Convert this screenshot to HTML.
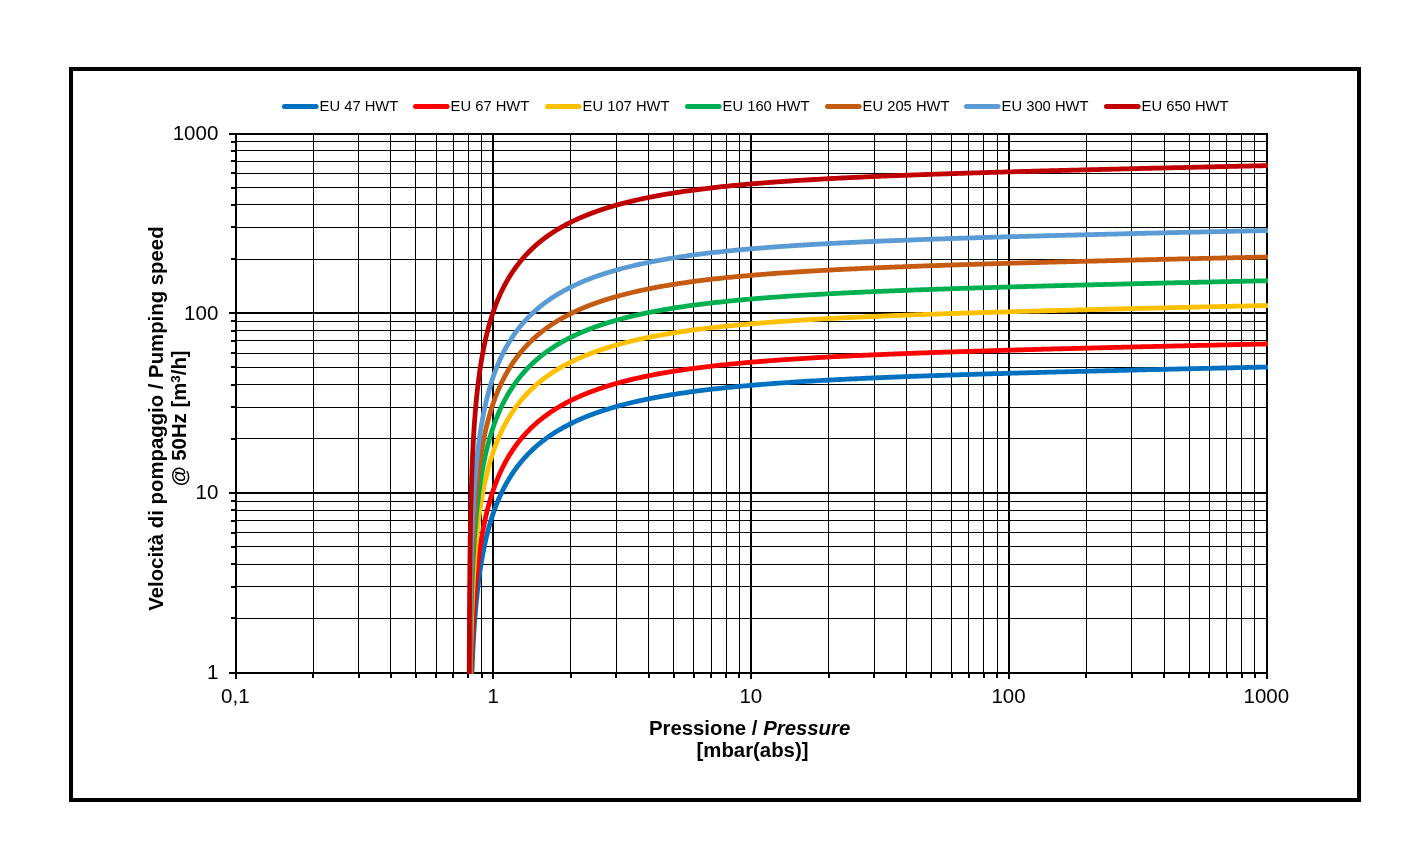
<!DOCTYPE html>
<html lang="en"><head><meta charset="utf-8"><title>Pumping speed</title>
<style>
html,body{margin:0;padding:0;background:#fff;}
body{width:1428px;height:861px;overflow:hidden;}
svg{display:block;will-change:transform;}
text{font-family:"Liberation Sans",sans-serif;fill:#000;}
.tk{font-size:20.5px;}
.tt{font-size:20.35px;font-weight:bold;}
.lg{font-size:14.75px;}
</style></head><body>
<svg width="1428" height="861" viewBox="0 0 1428 861">
<rect x="0" y="0" width="1428" height="861" fill="#fff"/>
<rect x="71" y="69" width="1288" height="731" fill="none" stroke="#000" stroke-width="4" shape-rendering="crispEdges"/>
<g shape-rendering="crispEdges" fill="#000">
<rect x="313" y="133" width="1" height="541"/>
<rect x="312" y="672" width="2" height="6"/>
<rect x="358" y="133" width="1" height="541"/>
<rect x="358" y="672" width="2" height="6"/>
<rect x="390" y="133" width="1" height="541"/>
<rect x="390" y="672" width="2" height="6"/>
<rect x="415" y="133" width="1" height="541"/>
<rect x="415" y="672" width="2" height="6"/>
<rect x="436" y="133" width="1" height="541"/>
<rect x="435" y="672" width="2" height="6"/>
<rect x="453" y="133" width="1" height="541"/>
<rect x="452" y="672" width="2" height="6"/>
<rect x="468" y="133" width="1" height="541"/>
<rect x="467" y="672" width="2" height="6"/>
<rect x="481" y="133" width="1" height="541"/>
<rect x="481" y="672" width="2" height="6"/>
<rect x="570" y="133" width="1" height="541"/>
<rect x="570" y="672" width="2" height="6"/>
<rect x="616" y="133" width="1" height="541"/>
<rect x="615" y="672" width="2" height="6"/>
<rect x="648" y="133" width="1" height="541"/>
<rect x="648" y="672" width="2" height="6"/>
<rect x="673" y="133" width="1" height="541"/>
<rect x="673" y="672" width="2" height="6"/>
<rect x="693" y="133" width="1" height="541"/>
<rect x="693" y="672" width="2" height="6"/>
<rect x="711" y="133" width="1" height="541"/>
<rect x="710" y="672" width="2" height="6"/>
<rect x="726" y="133" width="1" height="541"/>
<rect x="725" y="672" width="2" height="6"/>
<rect x="739" y="133" width="1" height="541"/>
<rect x="738" y="672" width="2" height="6"/>
<rect x="828" y="133" width="1" height="541"/>
<rect x="828" y="672" width="2" height="6"/>
<rect x="874" y="133" width="1" height="541"/>
<rect x="873" y="672" width="2" height="6"/>
<rect x="906" y="133" width="1" height="541"/>
<rect x="905" y="672" width="2" height="6"/>
<rect x="931" y="133" width="1" height="541"/>
<rect x="930" y="672" width="2" height="6"/>
<rect x="951" y="133" width="1" height="541"/>
<rect x="951" y="672" width="2" height="6"/>
<rect x="968" y="133" width="1" height="541"/>
<rect x="968" y="672" width="2" height="6"/>
<rect x="983" y="133" width="1" height="541"/>
<rect x="983" y="672" width="2" height="6"/>
<rect x="997" y="133" width="1" height="541"/>
<rect x="996" y="672" width="2" height="6"/>
<rect x="1086" y="133" width="1" height="541"/>
<rect x="1085" y="672" width="2" height="6"/>
<rect x="1131" y="133" width="1" height="541"/>
<rect x="1131" y="672" width="2" height="6"/>
<rect x="1164" y="133" width="1" height="541"/>
<rect x="1163" y="672" width="2" height="6"/>
<rect x="1189" y="133" width="1" height="541"/>
<rect x="1188" y="672" width="2" height="6"/>
<rect x="1209" y="133" width="1" height="541"/>
<rect x="1208" y="672" width="2" height="6"/>
<rect x="1226" y="133" width="1" height="541"/>
<rect x="1226" y="672" width="2" height="6"/>
<rect x="1241" y="133" width="1" height="541"/>
<rect x="1241" y="672" width="2" height="6"/>
<rect x="1254" y="133" width="1" height="541"/>
<rect x="1254" y="672" width="2" height="6"/>
<rect x="235" y="618" width="1033" height="1"/>
<rect x="231" y="617" width="6" height="2"/>
<rect x="235" y="586" width="1033" height="1"/>
<rect x="231" y="586" width="6" height="2"/>
<rect x="235" y="564" width="1033" height="1"/>
<rect x="231" y="563" width="6" height="2"/>
<rect x="235" y="546" width="1033" height="1"/>
<rect x="231" y="546" width="6" height="2"/>
<rect x="235" y="532" width="1033" height="1"/>
<rect x="231" y="532" width="6" height="2"/>
<rect x="235" y="520" width="1033" height="1"/>
<rect x="231" y="520" width="6" height="2"/>
<rect x="235" y="510" width="1033" height="1"/>
<rect x="231" y="509" width="6" height="2"/>
<rect x="235" y="501" width="1033" height="1"/>
<rect x="231" y="500" width="6" height="2"/>
<rect x="235" y="438" width="1033" height="1"/>
<rect x="231" y="438" width="6" height="2"/>
<rect x="235" y="407" width="1033" height="1"/>
<rect x="231" y="406" width="6" height="2"/>
<rect x="235" y="384" width="1033" height="1"/>
<rect x="231" y="384" width="6" height="2"/>
<rect x="235" y="367" width="1033" height="1"/>
<rect x="231" y="366" width="6" height="2"/>
<rect x="235" y="353" width="1033" height="1"/>
<rect x="231" y="352" width="6" height="2"/>
<rect x="235" y="340" width="1033" height="1"/>
<rect x="231" y="340" width="6" height="2"/>
<rect x="235" y="330" width="1033" height="1"/>
<rect x="231" y="330" width="6" height="2"/>
<rect x="235" y="321" width="1033" height="1"/>
<rect x="231" y="320" width="6" height="2"/>
<rect x="235" y="259" width="1033" height="1"/>
<rect x="231" y="258" width="6" height="2"/>
<rect x="235" y="227" width="1033" height="1"/>
<rect x="231" y="226" width="6" height="2"/>
<rect x="235" y="204" width="1033" height="1"/>
<rect x="231" y="204" width="6" height="2"/>
<rect x="235" y="187" width="1033" height="1"/>
<rect x="231" y="187" width="6" height="2"/>
<rect x="235" y="173" width="1033" height="1"/>
<rect x="231" y="172" width="6" height="2"/>
<rect x="235" y="161" width="1033" height="1"/>
<rect x="231" y="160" width="6" height="2"/>
<rect x="235" y="150" width="1033" height="1"/>
<rect x="231" y="150" width="6" height="2"/>
<rect x="235" y="141" width="1033" height="1"/>
<rect x="231" y="141" width="6" height="2"/>
<rect x="235" y="133" width="2" height="546"/>
<rect x="492" y="133" width="2" height="546"/>
<rect x="750" y="133" width="2" height="546"/>
<rect x="1008" y="133" width="2" height="546"/>
<rect x="1266" y="133" width="2" height="546"/>
<rect x="229" y="672" width="1039" height="2"/>
<rect x="229" y="492" width="1039" height="2"/>
<rect x="229" y="312" width="1039" height="2"/>
<rect x="229" y="133" width="1039" height="2"/>
</g>
<defs><clipPath id="cp"><rect x="235" y="133" width="1033" height="541"/></clipPath>
<path id="bc" d="M469.06,912.15 L469.09,803.99 L469.12,760.34 L469.15,732.52 L469.18,712.05 L469.21,695.86 L469.24,682.46 L469.27,671.03 L469.30,661.07 L469.33,652.23 L469.36,644.30 L469.39,637.10 L469.42,630.52 L469.45,624.44 L469.48,618.81 L469.51,613.56 L469.54,608.64 L469.57,604.01 L469.60,599.64 L469.63,595.51 L469.66,591.58 L469.69,587.85 L469.72,584.28 L469.75,580.87 L469.78,577.61 L469.81,574.47 L469.84,571.46 L469.87,568.56 L469.90,565.77 L469.93,563.07 L469.96,560.47 L469.99,557.95 L470.02,555.50 L470.05,553.14 L470.08,550.84 L470.11,548.61 L470.14,546.44 L470.17,544.33 L470.20,542.28 L470.23,540.28 L470.26,538.33 L470.29,536.43 L470.32,534.57 L470.35,532.76 L470.38,530.99 L470.41,529.26 L470.44,527.57 L470.47,525.91 L470.50,524.29 L470.53,522.70 L470.56,521.15 L470.59,519.62 L470.62,518.12 L470.65,516.66 L470.68,515.22 L470.71,513.80 L470.74,512.42 L470.77,511.05 L470.80,509.71 L470.83,508.40 L470.86,507.10 L470.89,505.83 L470.92,504.58 L470.95,503.34 L470.98,502.13 L471.01,500.94 L471.04,499.76 L471.07,498.60 L471.10,497.46 L471.13,496.34 L471.16,495.23 L471.19,494.14 L471.22,493.06 L471.25,492.00 L471.28,490.95 L471.31,489.92 L471.34,488.90 L471.37,487.89 L471.40,486.90 L471.43,485.92 L471.46,484.95 L471.49,484.00 L471.52,483.05 L471.55,482.12 L471.58,481.20 L471.61,480.29 L471.64,479.39 L471.67,478.50 L471.70,477.62 L471.73,476.75 L471.76,475.90 L471.79,475.05 L471.82,474.21 L471.85,473.38 L471.88,472.55 L471.91,471.74 L471.94,470.94 L471.97,470.14 L472.00,469.35 L472.25,463.08 L472.50,457.29 L472.75,451.92 L473.00,446.89 L473.25,442.18 L473.50,437.75 L473.75,433.57 L474.00,429.60 L474.25,425.84 L474.50,422.25 L474.75,418.83 L475.00,415.56 L475.25,412.43 L475.50,409.43 L475.75,406.54 L476.00,403.76 L476.25,401.08 L476.50,398.50 L476.75,396.00 L477.00,393.59 L477.25,391.25 L477.50,388.99 L477.75,386.79 L478.00,384.66 L478.25,382.59 L478.50,380.58 L478.75,378.62 L479.00,376.71 L479.25,374.86 L479.50,373.05 L479.75,371.28 L480.00,369.56 L480.25,367.87 L480.50,366.23 L480.75,364.62 L481.00,363.05 L481.25,361.52 L481.50,360.01 L481.75,358.54 L482.00,357.10 L482.25,355.68 L482.50,354.30 L482.75,352.94 L483.00,351.61 L483.50,349.02 L484.00,346.53 L484.50,344.11 L485.00,341.79 L485.50,339.53 L486.00,337.35 L486.50,335.24 L487.00,333.19 L487.50,331.21 L488.00,329.28 L488.50,327.40 L489.00,325.57 L489.50,323.80 L490.00,322.07 L490.50,320.38 L491.00,318.74 L491.50,317.14 L492.00,315.57 L492.50,314.05 L493.00,312.56 L493.50,311.10 L494.00,309.67 L494.50,308.28 L495.00,306.91 L495.50,305.58 L496.00,304.27 L496.50,302.99 L497.00,301.74 L497.50,300.51 L498.00,299.30 L498.50,298.12 L499.00,296.96 L499.50,295.82 L500.00,294.70 L500.50,293.60 L501.00,292.52 L501.50,291.46 L502.00,290.42 L502.50,289.40 L503.00,288.40 L503.50,287.41 L504.00,286.43 L504.50,285.48 L505.00,284.54 L505.50,283.61 L506.00,282.70 L506.50,281.80 L507.00,280.92 L507.50,280.05 L508.00,279.19 L508.50,278.34 L509.00,277.51 L509.50,276.69 L510.00,275.88 L510.50,275.09 L511.00,274.30 L511.50,273.53 L512.00,272.76 L512.50,272.01 L513.00,271.27 L513.50,270.53 L514.00,269.81 L514.50,269.10 L515.00,268.39 L515.50,267.70 L516.00,267.01 L516.50,266.33 L517.00,265.66 L517.50,265.00 L518.00,264.35 L518.50,263.70 L519.00,263.07 L519.50,262.44 L520.00,261.82 L520.50,261.20 L521.00,260.59 L521.50,259.99 L522.00,259.40 L522.50,258.81 L523.00,258.24 L523.50,257.66 L524.00,257.10 L524.50,256.54 L525.00,255.98 L525.50,255.43 L526.00,254.89 L526.50,254.36 L527.00,253.83 L527.50,253.30 L528.00,252.78 L528.50,252.27 L529.00,251.76 L529.50,251.26 L530.00,250.76 L530.50,250.27 L531.00,249.78 L531.50,249.30 L532.00,248.82 L532.50,248.35 L533.00,247.88 L533.50,247.42 L534.00,246.96 L534.50,246.51 L535.00,246.06 L535.50,245.61 L536.00,245.17 L536.50,244.73 L537.00,244.30 L537.50,243.87 L538.00,243.45 L538.50,243.03 L539.00,242.61 L539.50,242.20 L540.00,241.79 L540.50,241.38 L541.00,240.98 L541.50,240.58 L542.00,240.19 L542.50,239.80 L543.00,239.41 L543.50,239.03 L544.00,238.65 L544.50,238.27 L545.00,237.89 L545.50,237.52 L546.00,237.16 L546.50,236.79 L547.00,236.43 L547.50,236.07 L548.00,235.72 L548.50,235.37 L549.00,235.02 L549.50,234.67 L550.00,234.33 L550.50,233.99 L551.00,233.65 L551.50,233.32 L552.00,232.98 L552.50,232.65 L553.00,232.33 L553.50,232.00 L554.00,231.68 L554.50,231.36 L555.00,231.05 L555.50,230.73 L556.00,230.42 L556.50,230.11 L557.00,229.81 L557.50,229.50 L558.00,229.20 L558.50,228.90 L559.00,228.61 L559.50,228.31 L560.00,228.02 L560.50,227.73 L561.00,227.44 L561.50,227.16 L562.00,226.87 L562.50,226.59 L563.00,226.31 L563.50,226.03 L564.00,225.76 L564.50,225.49 L565.00,225.21 L565.50,224.95 L566.00,224.68 L566.50,224.41 L567.00,224.15 L567.50,223.89 L568.00,223.63 L568.50,223.37 L569.00,223.12 L569.50,222.86 L570.00,222.61 L570.50,222.36 L571.00,222.11 L571.50,221.86 L572.00,221.62 L572.50,221.38 L573.00,221.13 L573.50,220.90 L574.00,220.66 L574.50,220.42 L575.00,220.19 L575.50,219.95 L576.00,219.72 L576.50,219.49 L577.00,219.26 L577.50,219.03 L578.00,218.81 L578.50,218.58 L579.00,218.36 L579.50,218.14 L580.00,217.92 L580.50,217.70 L581.00,217.49 L581.50,217.27 L582.00,217.06 L582.50,216.85 L583.00,216.64 L583.50,216.43 L584.00,216.22 L584.50,216.01 L585.00,215.81 L585.50,215.60 L586.00,215.40 L586.50,215.20 L587.00,215.00 L587.50,214.80 L588.00,214.60 L588.50,214.40 L589.00,214.21 L589.50,214.01 L590.00,213.82 L590.50,213.63 L591.00,213.44 L591.50,213.25 L592.00,213.06 L592.50,212.88 L593.00,212.69 L593.50,212.51 L594.00,212.32 L594.50,212.14 L595.00,211.96 L595.50,211.78 L596.00,211.60 L596.50,211.42 L597.00,211.25 L597.50,211.07 L598.00,210.90 L598.50,210.72 L599.00,210.55 L599.50,210.38 L600.00,210.21 L600.50,210.04 L601.00,209.87 L601.50,209.70 L602.00,209.54 L602.50,209.37 L603.00,209.21 L603.50,209.04 L604.00,208.88 L604.50,208.72 L605.00,208.56 L605.50,208.40 L606.00,208.24 L606.50,208.08 L607.00,207.93 L607.50,207.77 L608.00,207.61 L608.50,207.46 L609.00,207.31 L609.50,207.15 L610.00,207.00 L610.50,206.85 L611.00,206.70 L611.50,206.55 L612.00,206.41 L612.50,206.26 L613.00,206.11 L613.50,205.97 L614.00,205.82 L614.50,205.68 L615.00,205.53 L615.50,205.39 L616.00,205.25 L616.50,205.11 L617.00,204.97 L617.50,204.83 L618.00,204.69 L618.50,204.55 L619.00,204.42 L619.50,204.28 L620.00,204.15 L622.00,203.61 L624.00,203.09 L626.00,202.58 L628.00,202.07 L630.00,201.58 L632.00,201.10 L634.00,200.63 L636.00,200.17 L638.00,199.72 L640.00,199.28 L642.00,198.84 L644.00,198.42 L646.00,198.00 L648.00,197.59 L650.00,197.19 L652.00,196.80 L654.00,196.42 L656.00,196.04 L658.00,195.67 L660.00,195.30 L662.00,194.95 L664.00,194.60 L666.00,194.25 L668.00,193.92 L670.00,193.58 L672.00,193.26 L674.00,192.94 L676.00,192.62 L678.00,192.32 L680.00,192.01 L682.00,191.72 L684.00,191.42 L686.00,191.14 L688.00,190.85 L690.00,190.58 L692.00,190.30 L694.00,190.03 L696.00,189.77 L698.00,189.51 L700.00,189.26 L702.00,189.00 L704.00,188.76 L706.00,188.51 L708.00,188.28 L710.00,188.04 L712.00,187.81 L714.00,187.58 L716.00,187.36 L718.00,187.14 L720.00,186.92 L722.00,186.70 L724.00,186.49 L726.00,186.29 L728.00,186.08 L730.00,185.88 L732.00,185.68 L734.00,185.49 L736.00,185.29 L738.00,185.10 L740.00,184.92 L742.00,184.73 L744.00,184.55 L746.00,184.37 L748.00,184.20 L750.00,184.02 L752.00,183.85 L754.00,183.68 L756.00,183.51 L758.00,183.35 L760.00,183.19 L762.00,183.03 L764.00,182.87 L766.00,182.71 L768.00,182.56 L770.00,182.41 L772.00,182.26 L774.00,182.11 L776.00,181.96 L778.00,181.82 L780.00,181.68 L782.00,181.54 L784.00,181.40 L786.00,181.26 L788.00,181.13 L790.00,180.99 L792.00,180.86 L794.00,180.73 L796.00,180.60 L798.00,180.47 L800.00,180.35 L802.00,180.22 L804.00,180.10 L806.00,179.98 L808.00,179.86 L810.00,179.74 L812.00,179.62 L814.00,179.51 L816.00,179.39 L818.00,179.28 L820.00,179.16 L822.00,179.05 L824.00,178.94 L826.00,178.83 L828.00,178.73 L830.00,178.62 L832.00,178.51 L834.00,178.41 L836.00,178.31 L838.00,178.20 L840.00,178.10 L842.00,178.00 L844.00,177.90 L846.00,177.81 L848.00,177.71 L850.00,177.61 L852.00,177.52 L854.00,177.42 L856.00,177.33 L858.00,177.24 L860.00,177.14 L862.00,177.05 L864.00,176.96 L866.00,176.87 L868.00,176.78 L870.00,176.70 L872.00,176.61 L874.00,176.52 L876.00,176.44 L878.00,176.35 L880.00,176.27 L882.00,176.18 L884.00,176.10 L886.00,176.02 L888.00,175.94 L890.00,175.86 L892.00,175.78 L894.00,175.70 L896.00,175.62 L898.00,175.54 L900.00,175.46 L902.00,175.38 L904.00,175.31 L906.00,175.23 L908.00,175.16 L910.00,175.08 L912.00,175.01 L914.00,174.93 L916.00,174.86 L918.00,174.79 L920.00,174.71 L922.00,174.64 L924.00,174.57 L926.00,174.50 L928.00,174.43 L930.00,174.36 L932.00,174.29 L934.00,174.22 L936.00,174.15 L938.00,174.08 L940.00,174.02 L942.00,173.95 L944.00,173.88 L946.00,173.81 L948.00,173.75 L950.00,173.68 L952.00,173.62 L954.00,173.55 L956.00,173.49 L958.00,173.42 L960.00,173.36 L962.00,173.29 L964.00,173.23 L966.00,173.17 L968.00,173.10 L970.00,173.04 L972.00,172.98 L974.00,172.92 L976.00,172.86 L978.00,172.80 L980.00,172.73 L982.00,172.67 L984.00,172.61 L986.00,172.55 L988.00,172.49 L990.00,172.43 L992.00,172.37 L994.00,172.32 L996.00,172.26 L998.00,172.20 L1000.00,172.14 L1002.00,172.08 L1004.00,172.02 L1006.00,171.97 L1008.00,171.91 L1010.00,171.85 L1012.00,171.80 L1014.00,171.74 L1016.00,171.68 L1018.00,171.63 L1020.00,171.57 L1022.00,171.52 L1024.00,171.46 L1026.00,171.40 L1028.00,171.35 L1030.00,171.29 L1032.00,171.24 L1034.00,171.19 L1036.00,171.13 L1038.00,171.08 L1040.00,171.02 L1042.00,170.97 L1044.00,170.92 L1046.00,170.86 L1048.00,170.81 L1050.00,170.76 L1052.00,170.70 L1054.00,170.65 L1056.00,170.60 L1058.00,170.55 L1060.00,170.49 L1062.00,170.44 L1064.00,170.39 L1066.00,170.34 L1068.00,170.29 L1070.00,170.23 L1072.00,170.18 L1074.00,170.13 L1076.00,170.08 L1078.00,170.03 L1080.00,169.98 L1082.00,169.93 L1084.00,169.88 L1086.00,169.83 L1088.00,169.78 L1090.00,169.73 L1092.00,169.68 L1094.00,169.63 L1096.00,169.58 L1098.00,169.53 L1100.00,169.48 L1102.00,169.43 L1104.00,169.38 L1106.00,169.33 L1108.00,169.28 L1110.00,169.23 L1112.00,169.18 L1114.00,169.13 L1116.00,169.09 L1118.00,169.04 L1120.00,168.99 L1122.00,168.94 L1124.00,168.89 L1126.00,168.84 L1128.00,168.80 L1130.00,168.75 L1132.00,168.70 L1134.00,168.65 L1136.00,168.60 L1138.00,168.56 L1140.00,168.51 L1142.00,168.46 L1144.00,168.41 L1146.00,168.37 L1148.00,168.32 L1150.00,168.27 L1152.00,168.23 L1154.00,168.18 L1156.00,168.13 L1158.00,168.08 L1160.00,168.04 L1162.00,167.99 L1164.00,167.94 L1166.00,167.90 L1168.00,167.85 L1170.00,167.81 L1172.00,167.76 L1174.00,167.71 L1176.00,167.67 L1178.00,167.62 L1180.00,167.57 L1182.00,167.53 L1184.00,167.48 L1186.00,167.44 L1188.00,167.39 L1190.00,167.35 L1192.00,167.30 L1194.00,167.25 L1196.00,167.21 L1198.00,167.16 L1200.00,167.12 L1202.00,167.07 L1204.00,167.03 L1206.00,166.98 L1208.00,166.94 L1210.00,166.89 L1212.00,166.85 L1214.00,166.80 L1216.00,166.76 L1218.00,166.71 L1220.00,166.67 L1222.00,166.62 L1224.00,166.58 L1226.00,166.53 L1228.00,166.49 L1230.00,166.45 L1232.00,166.40 L1234.00,166.36 L1236.00,166.31 L1238.00,166.27 L1240.00,166.22 L1242.00,166.18 L1244.00,166.14 L1246.00,166.09 L1248.00,166.05 L1250.00,166.00 L1252.00,165.96 L1254.00,165.92 L1256.00,165.87 L1258.00,165.83 L1260.00,165.78 L1262.00,165.74 L1264.00,165.70 L1266.00,165.65 L1267.00,165.63 L1268.50,165.60"/></defs>
<g clip-path="url(#cp)" fill="none" stroke-width="4.8" stroke-linejoin="round" stroke-linecap="butt">
<use href="#bc" stroke="#0070C0" transform="translate(0,201.4)"/>
<use href="#bc" stroke="#FF0000" transform="translate(0,178.3)"/>
<use href="#bc" stroke="#FFC000" transform="translate(0,139.9)"/>
<use href="#bc" stroke="#00B050" transform="translate(0,115.1)"/>
<use href="#bc" stroke="#C55A11" transform="translate(0,91.4)"/>
<use href="#bc" stroke="#5B9BD5" transform="translate(0,64.9)"/>
<use href="#bc" stroke="#C00000" transform="translate(0,0.0)"/>
</g>
<g stroke-width="5" stroke-linecap="round" fill="none">
<line x1="284.5" y1="106.5" x2="316.1" y2="106.5" stroke="#0070C0"/>
<line x1="415.5" y1="106.5" x2="447.1" y2="106.5" stroke="#FF0000"/>
<line x1="547.5" y1="106.5" x2="579.1" y2="106.5" stroke="#FFC000"/>
<line x1="687.5" y1="106.5" x2="719.1" y2="106.5" stroke="#00B050"/>
<line x1="827.5" y1="106.5" x2="859.1" y2="106.5" stroke="#C55A11"/>
<line x1="966.5" y1="106.5" x2="998.1" y2="106.5" stroke="#5B9BD5"/>
<line x1="1106.5" y1="106.5" x2="1138.1" y2="106.5" stroke="#C00000"/>
</g>
<text class="lg" x="319.6" y="111">EU 47 HWT</text>
<text class="lg" x="450.6" y="111">EU 67 HWT</text>
<text class="lg" x="582.6" y="111">EU 107 HWT</text>
<text class="lg" x="722.6" y="111">EU 160 HWT</text>
<text class="lg" x="862.6" y="111">EU 205 HWT</text>
<text class="lg" x="1001.6" y="111">EU 300 HWT</text>
<text class="lg" x="1141.6" y="111">EU 650 HWT</text>
<text class="tk" x="218.3" y="139.8" text-anchor="end">1000</text>
<text class="tk" x="218.3" y="319.5" text-anchor="end">100</text>
<text class="tk" x="218.3" y="499.1" text-anchor="end">10</text>
<text class="tk" x="218.3" y="678.8" text-anchor="end">1</text>
<text class="tk" x="235.3" y="702.6" text-anchor="middle">0,1</text>
<text class="tk" x="493.1" y="702.6" text-anchor="middle">1</text>
<text class="tk" x="750.8" y="702.6" text-anchor="middle">10</text>
<text class="tk" x="1008.5" y="702.6" text-anchor="middle">100</text>
<text class="tk" x="1266.3" y="702.6" text-anchor="middle">1000</text>
<text class="tt" x="749.6" y="734.7" text-anchor="middle">Pressione / <tspan font-style="italic">Pressure</tspan></text>
<text class="tt" x="752.5" y="757.2" text-anchor="middle">[mbar(abs)]</text>
<text class="tt" transform="translate(163.4,418.6) rotate(-90)" text-anchor="middle">Velocit&#224; di pompaggio / Pumping speed</text>
<text class="tt" transform="translate(185.9,418.3) rotate(-90)" text-anchor="middle">@ 50Hz [m<tspan font-size="13.5px" dy="-6">3</tspan><tspan dy="6">/h]</tspan></text>
</svg></body></html>
